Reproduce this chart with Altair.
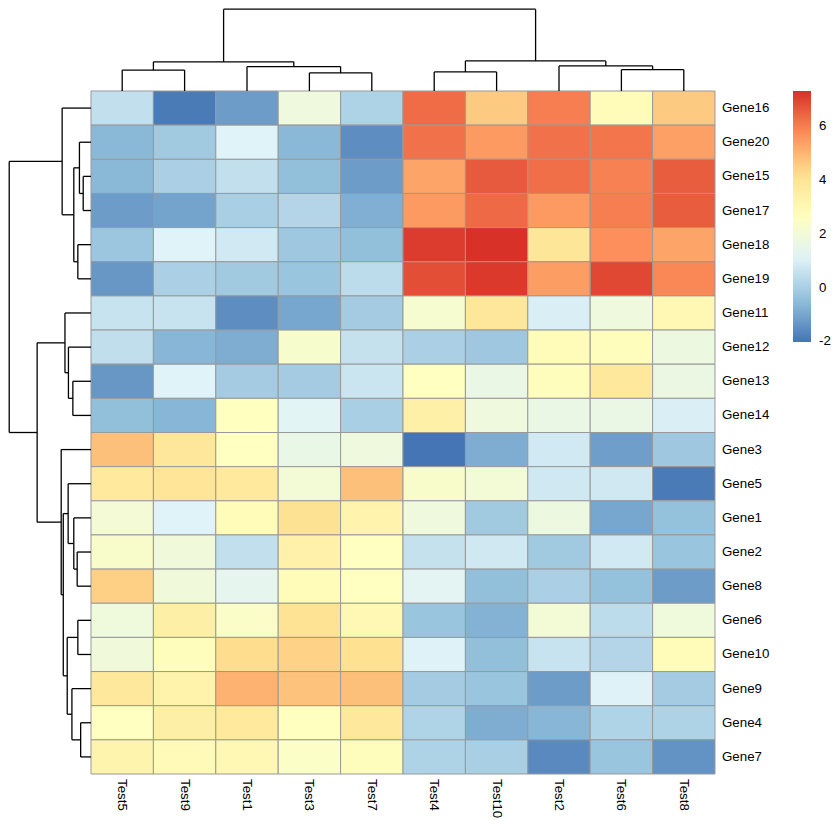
import altair as alt
import pandas as pd

# ---------------- data ----------------
tests = ["Test5", "Test9", "Test1", "Test3", "Test7", "Test4", "Test10", "Test2", "Test6", "Test8"]
genes = ["Gene16", "Gene20", "Gene15", "Gene17", "Gene18", "Gene19", "Gene11", "Gene12",
         "Gene13", "Gene14", "Gene3", "Gene5", "Gene1", "Gene2", "Gene8", "Gene6",
         "Gene10", "Gene9", "Gene4", "Gene7"]

gene16 = [0.5, -1.9, -1.2, 1.8, 0.1, 6.3, 4.6, 6.0, 2.8, 4.6]
gene20 = [-0.6, -0.15, 1.1, -0.6, -1.5, 6.2, 5.5, 6.2, 6.15, 5.4]
gene15 = [-0.6, 0.05, 0.5, -0.45, -1.2, 5.3, 6.6, 6.25, 5.95, 6.55]
gene17 = [-1.2, -1.05, 0.0, 0.2, -0.8, 5.5, 6.35, 5.5, 6.0, 6.55]
gene18 = [-0.25, 1.1, 0.8, -0.2, -0.45, 7.1, 7.28, 3.9, 5.7, 5.3]
gene19 = [-1.3, 0.05, -0.15, -0.3, 0.4, 6.8, 7.15, 5.45, 6.9, 5.85]
gene11 = [0.6, 0.6, -1.5, -1.0, -0.1, 2.2, 3.85, 0.95, 1.8, 3.0]
gene12 = [0.45, -0.65, -0.85, 2.25, 0.55, 0.05, -0.2, 2.8, 2.75, 1.75]
gene13 = [-1.3, 1.1, -0.1, -0.1, 0.65, 2.6, 1.6, 2.75, 3.8, 1.65]
gene14 = [-0.45, -0.65, 2.65, 1.2, 0.0, 3.4, 1.8, 1.6, 1.6, 0.95]
gene3 = [4.8, 3.85, 2.6, 1.55, 1.8, -2.02, -0.85, 0.8, -1.15, -0.2]
gene5 = [3.75, 3.95, 3.75, 2.0, 4.8, 2.3, 2.0, 0.75, 0.75, -1.9]
gene1 = [2.05, 1.1, 2.85, 4.1, 3.25, 1.8, -0.15, 1.75, -1.0, -0.4]
gene2 = [2.3, 1.9, 0.5, 3.35, 2.6, 0.55, 0.75, -0.15, 0.8, -0.3]
gene8 = [4.5, 1.9, 1.4, 2.8, 2.6, 1.25, -0.45, 0.05, -0.4, -1.2]
gene6 = [1.85, 3.45, 2.4, 4.05, 3.0, -0.3, -0.75, 2.0, 0.4, 1.85]
gene10 = [1.9, 2.75, 4.25, 4.45, 4.15, 1.05, -0.45, 0.6, 0.2, 2.85]
gene9 = [3.8, 3.3, 5.05, 4.75, 4.8, -0.1, -0.3, -1.2, 1.05, -0.1]
gene4 = [2.6, 3.45, 3.75, 2.65, 3.8, 0.15, -0.85, -0.65, 0.15, 0.1]
gene7 = [3.2, 2.9, 3.05, 2.45, 2.75, 0.1, 0.0, -1.6, -0.3, -1.4]

matrix = [gene16, gene20, gene15, gene17, gene18, gene19, gene11, gene12, gene13, gene14,
          gene3, gene5, gene1, gene2, gene8, gene6, gene10, gene9, gene4, gene7]

# hierarchical merges: (cluster id, left child, right child, merge height)
row_merges = [
    ("r1", "Gene15", "Gene17", 0.83),
    ("r2", "Gene20", "r1", 1.23),
    ("r3", "Gene18", "Gene19", 1.40),
    ("r4", "r2", "r3", 1.83),
    ("r5", "Gene16", "r4", 3.07),
    ("r6", "Gene13", "Gene14", 1.93),
    ("r7", "Gene12", "r6", 2.40),
    ("r8", "Gene11", "r7", 2.77),
    ("r9", "Gene2", "Gene8", 1.47),
    ("r10", "Gene1", "r9", 1.83),
    ("r11", "Gene5", "r10", 2.43),
    ("r12", "Gene6", "Gene10", 1.40),
    ("r13", "Gene4", "Gene7", 1.10),
    ("r14", "Gene9", "r13", 2.03),
    ("r15", "r12", "r14", 2.53),
    ("r16", "r11", "r15", 2.95),
    ("r17", "Gene3", "r16", 3.17),
    ("r18", "r8", "r17", 5.73),
    ("r19", "r5", "r18", 8.70),
]
col_merges = [
    ("c1", "Test5", "Test9", 2.23),
    ("c2", "Test3", "Test7", 1.93),
    ("c3", "Test1", "c2", 2.60),
    ("c4", "c1", "c3", 3.10),
    ("c5", "Test4", "Test10", 2.03),
    ("c6", "Test6", "Test8", 2.27),
    ("c7", "Test2", "c6", 2.67),
    ("c8", "c5", "c7", 3.20),
    ("c9", "c4", "c8", 8.70),
]

legend_ticks = [-2, 0, 2, 4, 6]
color_min, color_max = -2.02, 7.3
palette = ["#4575B4", "#91BFDB", "#E0F3F8", "#FFFFBF", "#FEE090", "#FC8D59", "#D73027"]

# ---------------- layout ----------------
W, H = 824, 824
CELL_W, CELL_H = 62.4, 34.15
HEAT_X0, HEAT_Y0 = 83, 83
PX_PER_HEIGHT = 9.4
FONT = "Liberation Sans, Arial, sans-serif"

n_cols, n_rows = len(tests), len(genes)
xscale = alt.Scale(domain=[-HEAT_X0 / CELL_W, (W - HEAT_X0) / CELL_W], nice=False, zero=False)
yscale = alt.Scale(domain=[-HEAT_Y0 / CELL_H, (H - HEAT_Y0) / CELL_H], nice=False, zero=False, reverse=True)

cells = []
for i, g in enumerate(genes):
    for j, t in enumerate(tests):
        cells.append({"gene": g, "test": t, "value": matrix[i][j],
                      "c0": j, "c1": j + 1, "r0": i, "r1": i + 1})
cells = pd.DataFrame(cells)


def dendro(order, merges):
    pos = {n: i + 0.5 for i, n in enumerate(order)}
    hgt = {n: 0.0 for n in order}
    segs = []
    for name, a, b, h in merges:
        segs.append({"p1": pos[a], "p2": pos[b], "h1": h, "h2": h})
        segs.append({"p1": pos[a], "p2": pos[a], "h1": hgt[a], "h2": h})
        segs.append({"p1": pos[b], "p2": pos[b], "h1": hgt[b], "h2": h})
        pos[name] = (pos[a] + pos[b]) / 2
        hgt[name] = h
    return pd.DataFrame(segs)


col_d = dendro(tests, col_merges)
col_d["x"] = col_d["p1"]
col_d["x2"] = col_d["p2"]
col_d["y"] = -col_d["h1"] * PX_PER_HEIGHT / CELL_H
col_d["y2"] = -col_d["h2"] * PX_PER_HEIGHT / CELL_H

row_d = dendro(genes, row_merges)
row_d["y"] = row_d["p1"]
row_d["y2"] = row_d["p2"]
row_d["x"] = -row_d["h1"] * PX_PER_HEIGHT / CELL_W
row_d["x2"] = -row_d["h2"] * PX_PER_HEIGHT / CELL_W

row_lab = pd.DataFrame({"gene": genes, "x": [n_cols] * n_rows, "y": [i + 0.5 for i in range(n_rows)]})
col_lab = pd.DataFrame({"test": tests, "x": [j + 0.5 for j in range(n_cols)], "y": [n_rows] * n_cols})

# ---------------- chart ----------------
heat = alt.Chart(cells).mark_rect(stroke="#999999", strokeWidth=1).encode(
    x=alt.X("c0:Q", scale=xscale, axis=None),
    x2="c1:Q",
    y=alt.Y("r0:Q", scale=yscale, axis=None),
    y2="r1:Q",
    color=alt.Color(
        "value:Q",
        scale=alt.Scale(domain=[color_min, color_max], range=palette, nice=False, zero=False,
                        interpolate="rgb"),
        legend=alt.Legend(
            title=None, orient="none", legendX=785, legendY=83, direction="vertical",
            gradientLength=251, gradientThickness=18, gradientStrokeWidth=0,
            values=legend_ticks, labelFont=FONT, labelFontSize=13.3, labelColor="black",
            labelOffset=8, padding=0, labelExpr="'' + datum.value",
        ),
    ),
)

col_tree = alt.Chart(col_d).mark_rule(color="black", strokeWidth=1.3).encode(
    x=alt.X("x:Q", scale=xscale, axis=None), x2="x2:Q",
    y=alt.Y("y:Q", scale=yscale, axis=None), y2="y2:Q",
)
row_tree = alt.Chart(row_d).mark_rule(color="black", strokeWidth=1.3).encode(
    x=alt.X("x:Q", scale=xscale, axis=None), x2="x2:Q",
    y=alt.Y("y:Q", scale=yscale, axis=None), y2="y2:Q",
)

row_text = alt.Chart(row_lab).mark_text(
    align="left", baseline="middle", dx=7, font=FONT, fontSize=13.3, color="black"
).encode(
    x=alt.X("x:Q", scale=xscale, axis=None),
    y=alt.Y("y:Q", scale=yscale, axis=None),
    text="gene:N",
)
col_text = alt.Chart(col_lab).mark_text(
    align="left", baseline="middle", angle=90, dx=5, font=FONT, fontSize=13.3, color="black"
).encode(
    x=alt.X("x:Q", scale=xscale, axis=None),
    y=alt.Y("y:Q", scale=yscale, axis=None),
    text="test:N",
)

chart = alt.layer(heat, col_tree, row_tree, row_text, col_text).properties(
    width=W, height=H, padding=0, autosize=alt.AutoSizeParams(type="none"),
    background="white",
).configure_view(stroke=None)

chart.save("out.html", embed_options={"renderer": "svg", "actions": False})
